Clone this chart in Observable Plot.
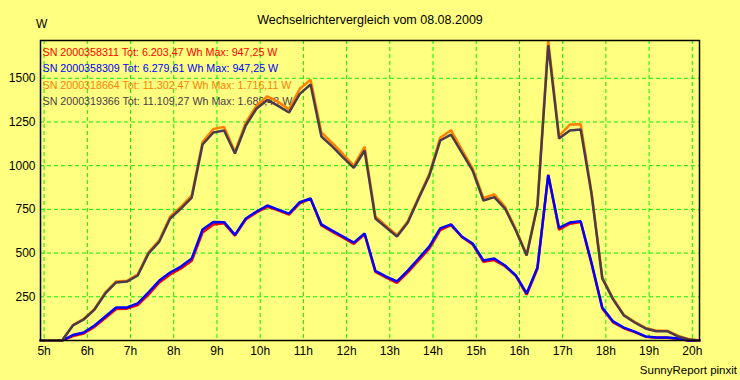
<!DOCTYPE html>
<html><head><meta charset="utf-8">
<script src="https://cdn.jsdelivr.net/npm/d3@7"></script>
<script src="https://cdn.jsdelivr.net/npm/@observablehq/plot@0.6"></script>
<style>
html,body{margin:0;padding:0;background:#FFFF80;}
#chart{position:relative;width:740px;height:380px;font-family:"Liberation Sans",Arial,sans-serif;color:#000;}
.lbl{position:absolute;white-space:nowrap;line-height:1;}
</style></head><body><div id="chart"></div>
<script>
const times = ["04:55","05:10","05:25","05:40","05:55","06:10","06:25","06:40","06:55","07:10","07:25","07:40","07:55","08:10","08:25","08:40","08:55","09:10","09:25","09:40","09:55","10:10","10:25","10:40","10:55","11:10","11:25","11:40","11:55","12:10","12:25","12:40","12:55","13:10","13:25","13:40","13:55","14:10","14:25","14:40","14:55","15:10","15:25","15:40","15:55","16:10","16:25","16:40","16:55","17:10","17:25","17:40","17:55","18:10","18:25","18:40","18:55","19:10","19:25","19:40","19:55","20:10"];
const seriesNames = ["SN 2000358311","SN 2000358309","SN 2000318664","SN 2000319366"];
const seriesColors = ["#FF0000","#0000FF","#FF8000","#4A3A4A"];
const legendLabels = [
  "SN 2000358311 Tot: 6.203,47 Wh Max: 947,25 W",
  "SN 2000358309 Tot: 6.279,61 Wh Max: 947,25 W",
  "SN 2000318664 Tot: 11.302,47 Wh Max: 1.716,11 W",
  "SN 2000319366 Tot: 11.109,27 Wh Max: 1.689,48 W"
];
const red = [0,0,0,25,40,78,128,180,182,203,262,332,378,412,456,618,664,670,600,692,733,765,745,720,785,810,658,622,588,553,608,392,360,330,390,458,527,632,660,592,550,450,460,425,370,262,410,947,634,668,678,440,183,104,70,48,22,16,16,10,0,0];
const blue = [0,0,0,31,46,86,137,189,189,212,275,343,389,423,469,635,678,677,604,698,738,772,749,726,791,812,664,629,595,560,612,398,366,338,400,469,538,641,664,595,555,458,469,429,372,269,418,947,644,675,682,446,189,109,74,51,23,17,17,11,0,0];
const orange = [0,0,0,88,124,180,275,338,342,378,505,575,708,765,830,1135,1210,1222,1078,1248,1343,1397,1365,1322,1440,1492,1190,1130,1067,1000,1108,710,656,602,682,820,955,1160,1203,1092,985,815,836,765,636,490,778,1716,1170,1235,1237,850,362,240,147,107,72,56,56,28,8,0];
const purple = [0,0,0,86,120,177,269,332,337,372,498,566,698,755,818,1121,1190,1201,1070,1230,1327,1376,1342,1304,1411,1464,1167,1110,1047,987,1087,698,646,595,675,812,944,1144,1178,1075,972,801,820,755,629,486,770,1689,1155,1201,1207,841,355,235,143,103,69,53,53,23,6,0];
const xTickValues = [5,6,7,8,9,10,11,12,13,14,15,16,17,18,19,20];
const yTicks = [250,500,750,1000,1250,1500];
const titleText = "Wechselrichtervergleich vom 08.08.2009";
const unitText = "W";
const footerText = "SunnyReport pinxit";

const parseT = s => { const [h, m] = s.split(":").map(Number); return h + m / 60; };
const rows = [];
[red, blue, orange, purple].forEach((arr, si) =>
  arr.forEach((v, i) => rows.push({t: parseT(times[i]), v, s: seriesNames[si]})));

const legendMarks = legendLabels.map((lab, i) =>
  Plot.text([lab], {text: d => d, frameAnchor: "top-left", textAnchor: "start",
    dx: 2, dy: 8 + i * 16.2, fill: seriesColors[i], fontSize: 10.7}));

const plot = Plot.plot({
  width: 740, height: 380,
  marginLeft: 40, marginRight: 41, marginTop: 40, marginBottom: 40,
  style: {background: "#FFFF80", fontFamily: "'Liberation Sans', Arial, sans-serif", fontSize: "12px", color: "#000", overflow: "visible"},
  x: {domain: [parseT(times[0]), parseT(times[times.length - 1])], ticks: xTickValues, tickFormat: d => d + "h", label: null, tickSize: 0, tickPadding: 6},
  y: {domain: [0, 1716.11], ticks: yTicks, tickFormat: d => String(d), label: null, tickSize: 0, tickPadding: 5},
  color: {domain: seriesNames, range: seriesColors},
  marks: [
    Plot.gridX(xTickValues, {stroke: "#00F000", strokeOpacity: 1, strokeDasharray: "4,3", strokeWidth: 1}),
    Plot.gridY(yTicks, {stroke: "#00F000", strokeOpacity: 1, strokeDasharray: "4,3", strokeWidth: 1}),
    ...legendMarks,
    Plot.line(rows, {x: "t", y: "v", z: "s", stroke: "s", strokeWidth: 2.5, strokeLinejoin: "miter"}),
    Plot.frame({stroke: "#000", strokeWidth: 1.5})
  ]
});
const chart = document.getElementById("chart");
chart.appendChild(plot);

function addLabel(txt, css) {
  const d = document.createElement("div");
  d.className = "lbl";
  d.textContent = txt;
  Object.assign(d.style, css);
  chart.appendChild(d);
}
addLabel(titleText, {left: "0px", width: "740px", textAlign: "center", top: "14px", fontSize: "12.5px"});
addLabel(unitText, {left: "36px", top: "18px", fontSize: "12px"});
addLabel(footerText, {right: "3px", top: "365px", fontSize: "11.5px"});
</script></body></html>
